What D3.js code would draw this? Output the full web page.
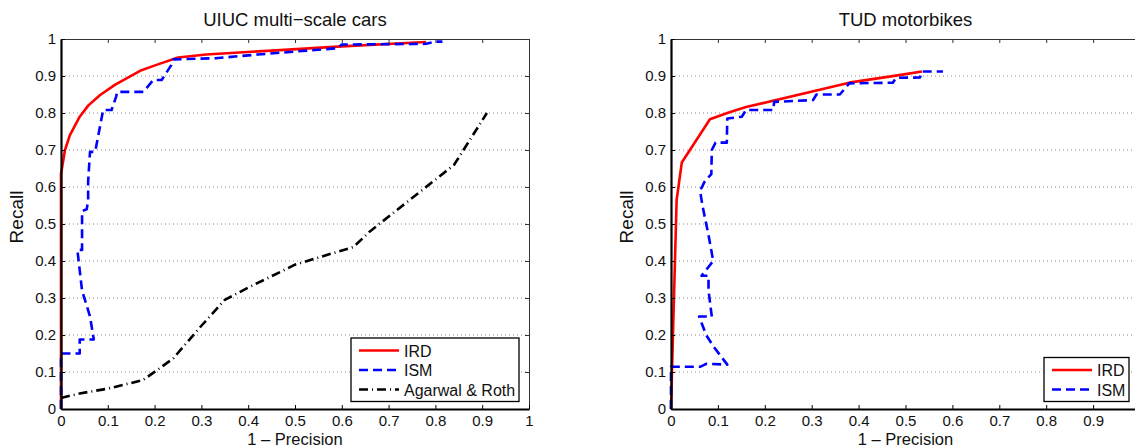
<!DOCTYPE html>
<html>
<head>
<meta charset="utf-8">
<script src="https://cdn.jsdelivr.net/npm/d3@7"></script>
<style>
  body { margin: 0; background: #fff; }
  svg { display: block; font-family: "Liberation Sans", Arial, sans-serif; }
</style>
</head>
<body>
<svg id="vis" width="1135" height="448"></svg>
<script>
const width = 1135;
const height = 448;

const tickValues = [0, 0.1, 0.2, 0.3, 0.4, 0.5, 0.6, 0.7, 0.8, 0.9, 1];

// UIUC multi-scale cars: [1 - precision, recall]
const carsIRD = [[0, 0], [0, 0.635], [0.0085, 0.70], [0.019, 0.74], [0.04, 0.79], [0.058, 0.82],
  [0.083, 0.848], [0.115, 0.876], [0.169, 0.914], [0.204, 0.93], [0.25, 0.95], [0.31, 0.958],
  [0.468, 0.97], [0.6, 0.98], [0.78, 0.992]];
const carsISM = [[0, 0], [0, 0.15], [0.04, 0.15], [0.04, 0.188], [0.07, 0.188], [0.062, 0.25],
  [0.045, 0.32], [0.035, 0.43], [0.045, 0.43], [0.045, 0.535], [0.055, 0.54], [0.058, 0.565],
  [0.058, 0.615], [0.062, 0.695], [0.073, 0.695], [0.09, 0.808], [0.108, 0.808], [0.118, 0.845],
  [0.12, 0.857], [0.176, 0.857], [0.197, 0.889], [0.215, 0.889], [0.236, 0.93], [0.24, 0.945],
  [0.33, 0.948], [0.42, 0.958], [0.5, 0.966], [0.59, 0.975], [0.6, 0.985], [0.78, 0.987],
  [0.8, 0.993], [0.815, 0.993]];
const carsAR = [[0, 0.03], [0.04, 0.042], [0.1, 0.055], [0.175, 0.078], [0.205, 0.105], [0.24, 0.137],
  [0.3, 0.225], [0.35, 0.295], [0.4, 0.328], [0.5, 0.39], [0.625, 0.438], [0.66, 0.48],
  [0.84, 0.66], [0.91, 0.8]];

// TUD motorbikes
const bikesIRD = [[0, 0], [0.002, 0.1], [0.012, 0.565], [0.023, 0.666], [0.083, 0.783], [0.12, 0.80],
  [0.16, 0.816], [0.38, 0.882], [0.49, 0.903], [0.535, 0.912]];
const bikesISM = [[0, 0], [0, 0.114], [0.062, 0.114], [0.075, 0.122], [0.12, 0.12], [0.09, 0.17],
  [0.075, 0.2], [0.06, 0.25], [0.087, 0.25], [0.08, 0.32], [0.08, 0.36], [0.065, 0.36],
  [0.09, 0.4], [0.08, 0.47], [0.067, 0.55], [0.062, 0.59], [0.072, 0.615], [0.086, 0.635],
  [0.087, 0.70], [0.095, 0.72], [0.119, 0.72], [0.12, 0.785], [0.151, 0.79], [0.16, 0.808],
  [0.218, 0.808], [0.22, 0.83], [0.303, 0.835], [0.31, 0.85], [0.36, 0.85], [0.38, 0.88],
  [0.473, 0.882], [0.48, 0.895], [0.531, 0.896], [0.535, 0.912], [0.58, 0.912]];

const styles = {
  IRD: { color: "#ff0000", dash: null },
  ISM: { color: "#0000ff", dash: "9,5" },
  "Agarwal & Roth": { color: "#000000", dash: "9,4,1,4" }
};

const svg = d3.select("#vis");

function drawPanel(cfg) {
  const x = d3.scaleLinear().domain([0, 1]).range([cfg.left, cfg.right]);
  const y = d3.scaleLinear().domain([0, 1]).range([409, 39]);
  const g = svg.append("g");
  // labels whose centre falls outside the page are left out
  const fmtX = d => (x(d) > width ? "" : String(+d.toFixed(1)));
  const fmtY = d => String(+d.toFixed(1));

  // dotted grid
  g.selectAll("line.grid")
    .data(tickValues.slice(1, -1))
    .join("line")
    .attr("x1", cfg.left).attr("x2", cfg.right)
    .attr("y1", d => y(d)).attr("y2", d => y(d))
    .attr("stroke", "#8a8a8a").attr("stroke-width", 1)
    .attr("stroke-dasharray", "1,3");

  // top and right box with inward ticks
  g.append("g").attr("transform", `translate(0,${y(1)})`)
    .call(d3.axisTop(x).tickValues(tickValues).tickSizeInner(-4).tickSizeOuter(0).tickFormat(""))
    .call(s => s.selectAll("path,line").attr("stroke", "#333"));
  g.append("g").attr("transform", `translate(${cfg.right},0)`)
    .call(d3.axisRight(y).tickValues(tickValues).tickSizeInner(-4).tickSizeOuter(0).tickFormat(""))
    .call(s => s.selectAll("path,line").attr("stroke", "#333"));

  // curves
  const line = d3.line().x(d => x(d[0])).y(d => y(d[1]));
  cfg.series.forEach(s => {
    g.append("path")
      .attr("d", line(s.values))
      .attr("fill", "none")
      .attr("stroke", styles[s.name].color)
      .attr("stroke-width", 2.6)
      .attr("stroke-dasharray", styles[s.name].dash)
      .attr("stroke-linejoin", "round");
  });

  // bottom and left axes
  const bottom = g.append("g").attr("transform", `translate(0,${y(0)})`)
    .call(d3.axisBottom(x).tickValues(tickValues).tickSizeInner(-4).tickSizeOuter(0).tickPadding(6.5).tickFormat(fmtX));
  const left = g.append("g").attr("transform", `translate(${cfg.left},0)`)
    .call(d3.axisLeft(y).tickValues(tickValues).tickSizeInner(-4).tickSizeOuter(0).tickPadding(5).tickFormat(fmtY));
  [bottom, left].forEach(a => {
    a.select(".domain").attr("stroke", "#000").attr("stroke-width", 2.2);
    a.selectAll(".tick line").attr("stroke", "#000");
    a.selectAll("text").attr("font-size", 15).attr("fill", "#111")
      .attr("font-family", "Liberation Sans, Arial, sans-serif");
  });

  // titles
  g.append("text")
    .attr("x", (cfg.left + cfg.right) / 2).attr("y", 25.7)
    .attr("text-anchor", "middle").attr("font-size", 18.5).attr("fill", "#111")
    .text(cfg.title);
  g.append("text")
    .attr("x", (cfg.left + cfg.right) / 2).attr("y", 444.5)
    .attr("text-anchor", "middle").attr("font-size", 16.5).attr("fill", "#111")
    .text("1 \u2013 Precision");
  g.append("text")
    .attr("transform", `translate(${cfg.left - 38},217) rotate(-90)`)
    .attr("text-anchor", "middle").attr("font-size", 19).attr("fill", "#111")
    .text("Recall");

  // legend
  const lg = g.append("g").attr("transform", `translate(${cfg.legend.x},${cfg.legend.y})`);
  lg.append("rect")
    .attr("width", cfg.legend.w).attr("height", 19.5 * cfg.series.length + 5)
    .attr("fill", "#fff").attr("stroke", "#000").attr("stroke-width", 1.3);
  cfg.series.forEach((s, i) => {
    const yy = 12.5 + i * 19.5;
    lg.append("line")
      .attr("x1", 8).attr("x2", 48).attr("y1", yy).attr("y2", yy)
      .attr("stroke", styles[s.name].color).attr("stroke-width", 2.6)
      .attr("stroke-dasharray", styles[s.name].dash);
    lg.append("text")
      .attr("x", 53).attr("y", yy + 6)
      .attr("font-size", 16).attr("fill", "#111")
      .text(s.name);
  });
}

drawPanel({
  title: "UIUC multi\u2212scale cars",
  left: 61, right: 529,
  legend: { x: 351, y: 338, w: 168 },
  series: [
    { name: "IRD", values: carsIRD },
    { name: "ISM", values: carsISM },
    { name: "Agarwal & Roth", values: carsAR }
  ]
});

drawPanel({
  title: "TUD motorbikes",
  left: 671, right: 1140,
  legend: { x: 1044, y: 357.5, w: 85 },
  series: [
    { name: "IRD", values: bikesIRD },
    { name: "ISM", values: bikesISM }
  ]
});
</script>
</body>
</html>
